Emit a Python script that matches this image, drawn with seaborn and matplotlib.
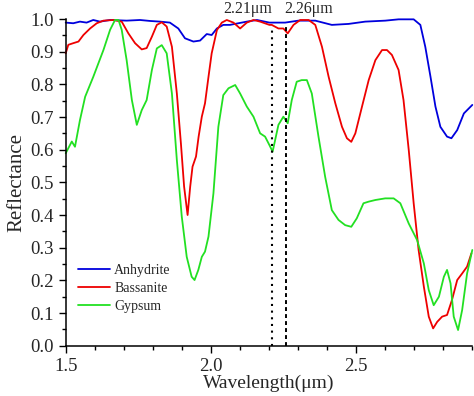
import numpy as np
import pandas as pd
import matplotlib
matplotlib.use("Agg")
import matplotlib.pyplot as plt
from matplotlib.ticker import MultipleLocator
import seaborn as sns

# Spectra (wavelength in um, reflectance)
anhydrite_x = [1.500, 1.526, 1.549, 1.572, 1.595, 1.618, 1.653, 1.710, 1.756, 1.791,
               1.825, 1.859, 1.888, 1.911, 1.940, 1.963, 1.986, 2.003, 2.021, 2.043,
               2.066, 2.095, 2.124, 2.159, 2.202, 2.222, 2.256, 2.302, 2.360, 2.417,
               2.475, 2.532, 2.601, 2.647, 2.699, 2.722, 2.739, 2.757, 2.774, 2.791,
               2.814, 2.829, 2.849, 2.872, 2.901]
anhydrite_y = [0.989, 0.987, 0.992, 0.989, 0.997, 0.992, 0.997, 0.995, 0.997, 0.994,
               0.992, 0.989, 0.971, 0.941, 0.931, 0.934, 0.954, 0.951, 0.971, 0.982,
               0.982, 0.987, 0.992, 0.997, 0.989, 0.989, 0.989, 0.995, 0.995, 0.982,
               0.985, 0.992, 0.995, 0.999, 0.999, 0.982, 0.915, 0.823, 0.732, 0.670,
               0.640, 0.635, 0.660, 0.711, 0.737]

bassanite_x = [1.500, 1.509, 1.526, 1.544, 1.561, 1.584, 1.607, 1.630, 1.664, 1.693,
               1.716, 1.739, 1.762, 1.779, 1.797, 1.814, 1.831, 1.848, 1.866, 1.883,
               1.897, 1.908, 1.920, 1.929, 1.937, 1.949, 1.958, 1.969, 1.980, 1.992,
               2.003, 2.021, 2.038, 2.055, 2.078, 2.101, 2.124, 2.147, 2.170, 2.202,
               2.210, 2.233, 2.250, 2.265, 2.285, 2.308, 2.337, 2.360, 2.383, 2.406,
               2.429, 2.452, 2.469, 2.484, 2.498, 2.521, 2.544, 2.567, 2.590, 2.607,
               2.624, 2.647, 2.664, 2.682, 2.699, 2.716, 2.734, 2.751, 2.766, 2.780,
               2.797, 2.814, 2.831, 2.849, 2.866, 2.883, 2.898]
bassanite_y = [0.895, 0.921, 0.926, 0.931, 0.951, 0.971, 0.987, 0.995, 0.997, 0.992,
               0.956, 0.926, 0.907, 0.911, 0.946, 0.982, 0.990, 0.977, 0.915, 0.772,
               0.619, 0.487, 0.400, 0.487, 0.548, 0.579, 0.640, 0.701, 0.742, 0.823,
               0.895, 0.966, 0.989, 0.997, 0.989, 0.971, 0.989, 0.997, 0.992, 0.982,
               0.982, 0.971, 0.971, 0.956, 0.982, 0.997, 0.997, 0.982, 0.915, 0.823,
               0.742, 0.670, 0.635, 0.624, 0.650, 0.732, 0.813, 0.874, 0.905, 0.905,
               0.890, 0.844, 0.752, 0.599, 0.436, 0.293, 0.181, 0.089, 0.053, 0.073,
               0.089, 0.094, 0.140, 0.201, 0.221, 0.242, 0.283]

gypsum_x = [1.500, 1.521, 1.532, 1.549, 1.567, 1.595, 1.630, 1.653, 1.670, 1.682,
            1.693, 1.710, 1.728, 1.745, 1.762, 1.779, 1.797, 1.814, 1.831, 1.848,
            1.866, 1.883, 1.900, 1.917, 1.934, 1.944, 1.957, 1.969, 1.980, 1.992,
            2.009, 2.026, 2.043, 2.061, 2.084, 2.101, 2.124, 2.147, 2.170, 2.187,
            2.202, 2.213, 2.233, 2.250, 2.265, 2.279, 2.296, 2.313, 2.331, 2.348,
            2.371, 2.394, 2.417, 2.440, 2.463, 2.484, 2.503, 2.526, 2.544, 2.567,
            2.601, 2.630, 2.653, 2.682, 2.711, 2.734, 2.751, 2.768, 2.786, 2.803,
            2.814, 2.826, 2.837, 2.852, 2.866, 2.883, 2.901]
gypsum_y = [0.589, 0.625, 0.609, 0.690, 0.762, 0.823, 0.905, 0.967, 0.997, 0.997,
            0.967, 0.874, 0.752, 0.676, 0.721, 0.752, 0.844, 0.910, 0.920, 0.895,
            0.772, 0.568, 0.395, 0.272, 0.211, 0.201, 0.232, 0.272, 0.288, 0.334,
            0.466, 0.670, 0.767, 0.788, 0.798, 0.772, 0.732, 0.701, 0.650, 0.640,
            0.614, 0.594, 0.676, 0.701, 0.681, 0.752, 0.808, 0.813, 0.813, 0.772,
            0.640, 0.517, 0.415, 0.385, 0.369, 0.364, 0.390, 0.436, 0.441, 0.446,
            0.451, 0.451, 0.436, 0.374, 0.323, 0.252, 0.170, 0.124, 0.150, 0.211,
            0.232, 0.191, 0.089, 0.048, 0.109, 0.221, 0.293]

minerals = ["Anhydrite", "Bassanite", "Gypsum"]
colors = ["#0000dd", "#ee0000", "#22e022"]
marker_lines = [2.21, 2.26]
marker_labels = ["2.21\u03bcm", "2.26\u03bcm"]

df = pd.concat([
    pd.DataFrame({"x": anhydrite_x, "y": anhydrite_y, "mineral": "Anhydrite"}),
    pd.DataFrame({"x": bassanite_x, "y": bassanite_y, "mineral": "Bassanite"}),
    pd.DataFrame({"x": gypsum_x, "y": gypsum_y, "mineral": "Gypsum"}),
])

sns.set_style("ticks")
plt.rcParams["font.family"] = ["Liberation Serif", "DejaVu Serif"]

fig = plt.figure(figsize=(4.74, 3.96), dpi=100)
ax = fig.add_axes([0.1386, 0.127, 0.8572, 0.825])

sns.lineplot(data=df, x="x", y="y", hue="mineral", hue_order=minerals,
             palette=colors, linewidth=1.3, ax=ax, sort=False, estimator=None)
for line in ax.get_lines():
    line.set_clip_on(False)

# marker wavelengths
ax.plot([marker_lines[0]] * 2, [0, 0.975], color="black", linestyle=(0, (1, 2.2)), linewidth=1.5)
ax.plot([marker_lines[1]] * 2, [0, 0.975], color="black", linestyle=(0, (2, 1.6)), linewidth=1.4)
ax.text(2.212, 1.017, marker_labels[0], ha="right", va="baseline", fontsize=11.5)
ax.text(2.253, 1.017, marker_labels[1], ha="left", va="baseline", fontsize=11.5)

ax.set_xlim(1.5, 2.9)
ax.set_ylim(0, 1.0)
ax.xaxis.set_minor_locator(MultipleLocator(0.1))
ax.yaxis.set_major_locator(MultipleLocator(0.1))
ax.yaxis.set_minor_locator(MultipleLocator(0.05))
ax.set_xticks([1.5, 2.0, 2.5])
ax.set_xticklabels(["1.5", "2.0", "2.5"])
ax.tick_params(which="major", direction="out", length=5, width=1, labelsize=13.5, color="black")
ax.tick_params(which="minor", direction="out", length=3, width=1, color="black")
sns.despine(ax=ax)
for s in ["left", "bottom"]:
    ax.spines[s].set_linewidth(1.1)
    ax.spines[s].set_color("black")

ax.set_xlabel("Wavelength(\u03bcm)", fontsize=14, labelpad=0)
ax.set_ylabel("Reflectance", fontsize=15, labelpad=3)

leg = ax.legend(loc="lower left", bbox_to_anchor=(0.0, 0.063), frameon=False,
                fontsize=10, handlelength=2.3, handletextpad=0.3, labelspacing=0.35)
leg.set_title(None)

fig.savefig("out.png", dpi=100)
